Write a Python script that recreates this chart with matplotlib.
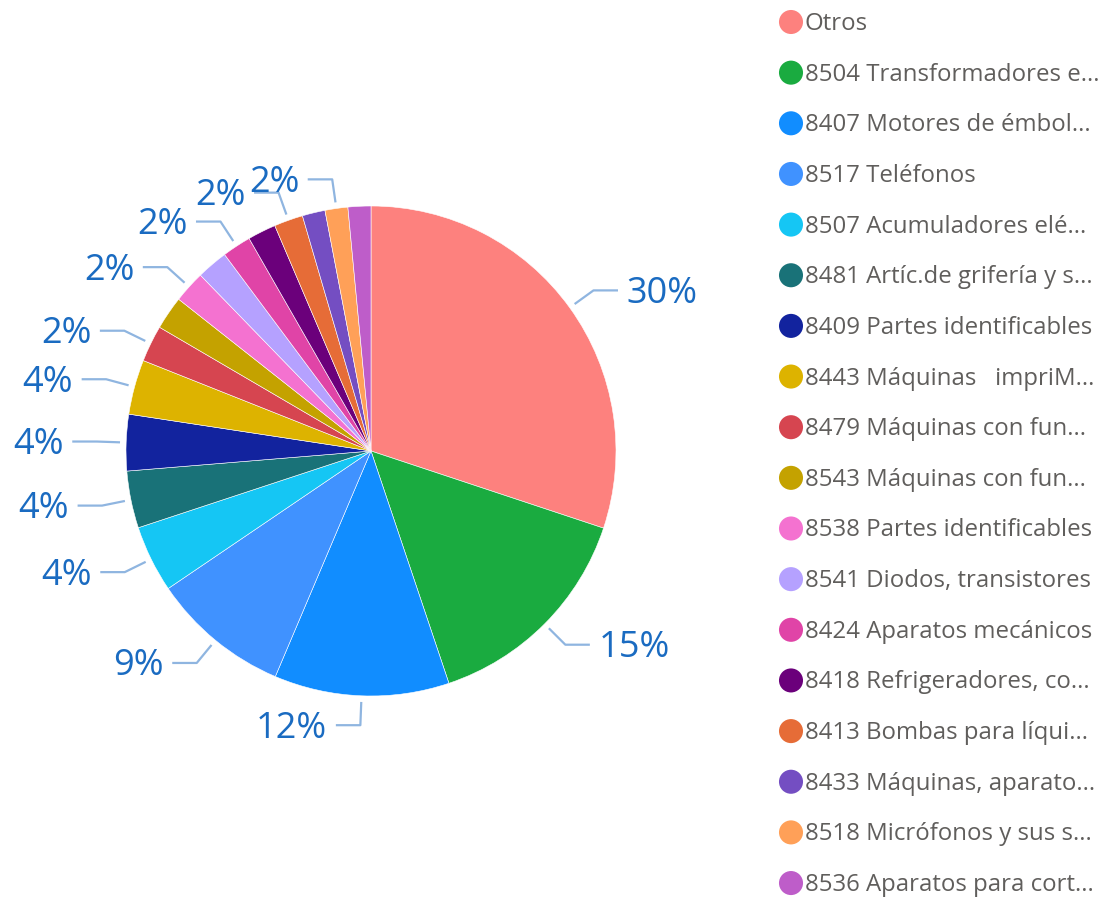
import numpy as np
import matplotlib
matplotlib.use("Agg")
import matplotlib.pyplot as plt

plt.rcParams['font.family'] = ['Open Sans', 'DejaVu Sans']

categories = [
    "Otros",
    "8504 Transformadores e...",
    "8407 Motores de émbol...",
    "8517 Teléfonos",
    "8507 Acumuladores elé...",
    "8481 Artíc.de grifería y s...",
    "8409 Partes identificables",
    "8443 Máquinas   impriM...",
    "8479 Máquinas con fun...",
    "8543 Máquinas con fun...",
    "8538 Partes identificables",
    "8541 Diodos, transistores",
    "8424 Aparatos mecánicos",
    "8418 Refrigeradores, co...",
    "8413 Bombas para líqui...",
    "8433 Máquinas, aparato...",
    "8518 Micrófonos y sus s...",
    "8536 Aparatos para cort...",
]
values = [30.0, 14.7, 11.5, 9.1, 4.4, 3.75, 3.7, 3.6, 2.4, 2.2, 2.1, 2.06,
          1.9, 1.86, 1.9, 1.5, 1.5, 1.5]
colors = ["#FD817E", "#1AAB40", "#118DFF", "#4092FF", "#15C6F4", "#197278",
          "#12239E", "#DDB300", "#D64550", "#C4A200", "#F472D0", "#B5A1FF",
          "#E044A7", "#6B007B", "#E66C37", "#744EC2", "#FFA058", "#BE5DC9"]
# which slices show a data label
show_label = [True, True, True, True, True, True, True, True, True, False,
              True, False, True, False, True, False, True, False]

W, H = 1114, 897
fig = plt.figure(figsize=(W / 100, H / 100), dpi=100)

cx, cy, R = 371, 451, 245
ax = fig.add_axes([(cx - R) / W, (H - cy - R) / H, 2 * R / W, 2 * R / H])
ax.set_xlim(-1, 1)
ax.set_ylim(-1, 1)
ax.axis('off')

wedges, _ = ax.pie(values, colors=colors, startangle=90, counterclock=False,
                   radius=1.0, center=(0, 0),
                   wedgeprops=dict(edgecolor='white', linewidth=0.4))
ax.set_xlim(-1, 1)
ax.set_ylim(-1, 1)
ax.set_aspect('auto')

total = sum(values)
label_color = "#1A6BC1"
line_color = "#8FB5E0"
for w, v, show in zip(wedges, values, show_label):
    if not show:
        continue
    mid = np.deg2rad((w.theta1 + w.theta2) / 2)
    dx, dy = np.cos(mid), np.sin(mid)
    x0, y0 = 1.025 * dx, 1.025 * dy
    x1, y1 = 1.12 * dx, 1.12 * dy
    side = 1 if dx >= 0 else -1
    x2 = x1 + side * 0.10
    ax.plot([x0, x1, x2], [y0, y1, y1], color=line_color, lw=1.6,
            clip_on=False, solid_capstyle='butt')
    pct = round(v / total * 100)
    ax.text(x2 + side * 0.035, y1 - 0.014, f"{pct}%", color=label_color,
            fontsize=26, ha='left' if side > 0 else 'right', va='center',
            clip_on=False)

# legend
lax = fig.add_axes([0, 0, 1, 1])
lax.set_xlim(0, W)
lax.set_ylim(H, 0)
lax.axis('off')
ys = 22 + 50.65 * np.arange(len(categories))
lax.scatter([791] * len(categories), ys, s=300, c=colors, marker='o',
            linewidths=0)
for y, name in zip(ys, categories):
    lax.text(805, y + 2, name, color="#605E5C", fontsize=17.3,
             ha='left', va='center')

fig.savefig("out.png", dpi=100)
